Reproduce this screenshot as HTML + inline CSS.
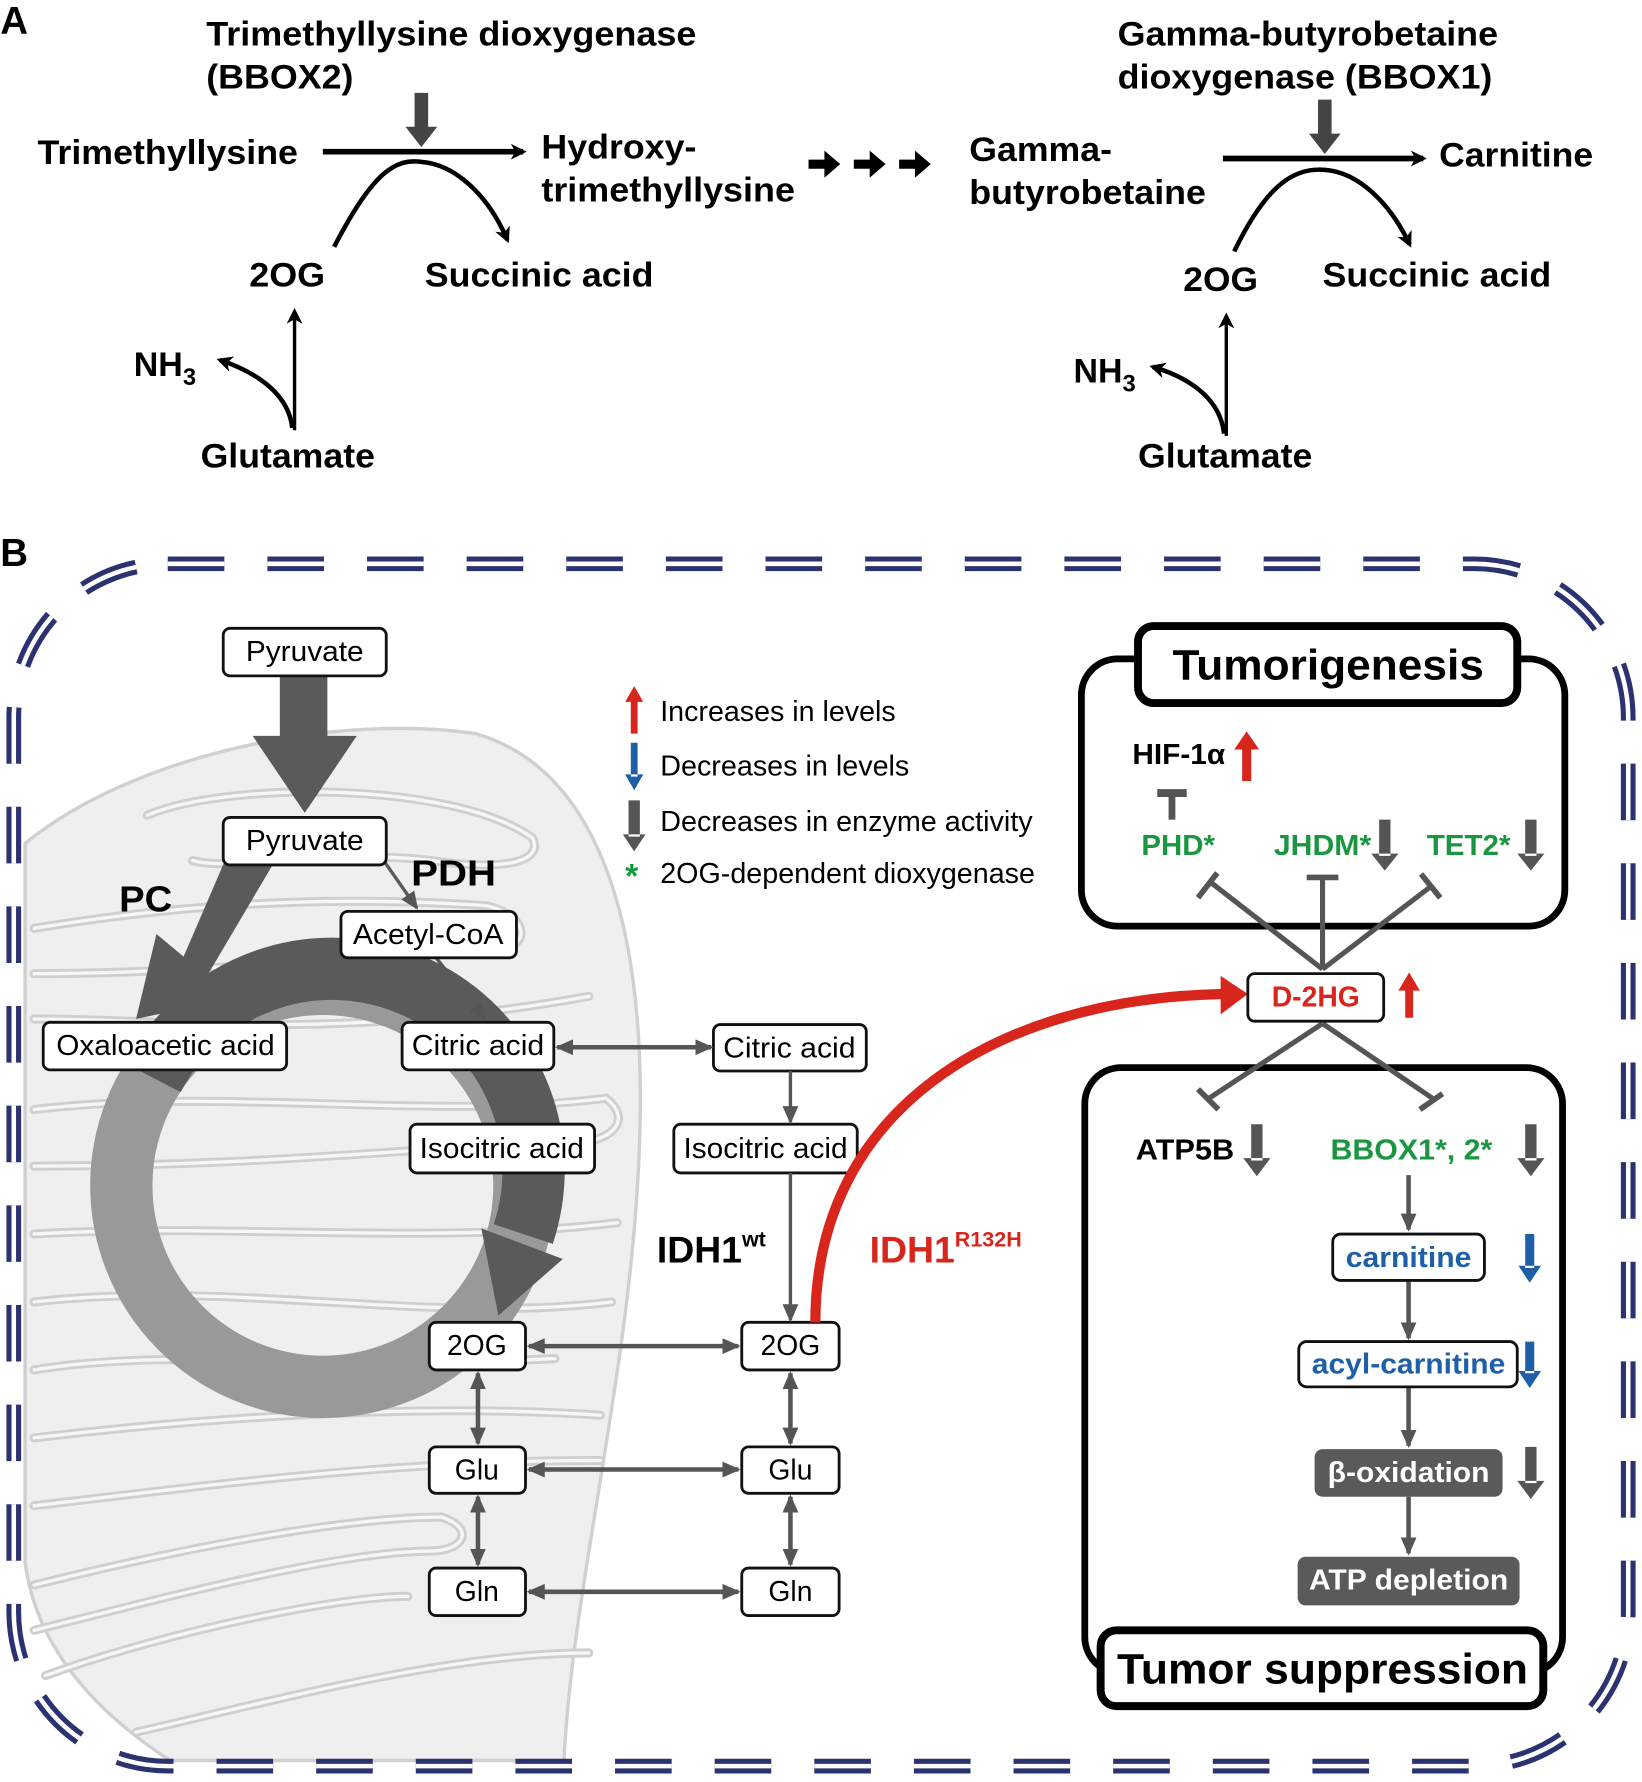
<!DOCTYPE html>
<html><head><meta charset="utf-8"><style>
html,body{margin:0;padding:0;background:#fff;width:1642px;height:1782px;overflow:hidden}
svg{display:block}
text{font-family:"Liberation Sans",Arial,sans-serif}
</style></head><body>
<svg width="1642" height="1782" viewBox="0 0 1450 1574" xmlns="http://www.w3.org/2000/svg">
<defs>
<marker id="ab" markerWidth="14" markerHeight="14" refX="11" refY="7" orient="auto" markerUnits="userSpaceOnUse" viewBox="0 0 14 14"><path d="M0,0 L14,7 L0,14 L4,7 Z" fill="#000"/></marker>
<marker id="ag" markerWidth="16" markerHeight="16" refX="14" refY="8" orient="auto-start-reverse" markerUnits="userSpaceOnUse" viewBox="0 0 16 16"><path d="M0,1 L16,8 L0,15 Z" fill="#555"/></marker>
</defs>

<!-- ===== Panel A ===== -->
<g font-weight="bold" font-size="30" fill="#000" lengthAdjust="spacingAndGlyphs">
<text x="0" y="30" font-size="34">A</text>
<text x="182" y="40" textLength="433" lengthAdjust="spacingAndGlyphs">Trimethyllysine dioxygenase</text>
<text x="182" y="78" textLength="130" lengthAdjust="spacingAndGlyphs">(BBOX2)</text>
<text x="33" y="145" textLength="230" lengthAdjust="spacingAndGlyphs">Trimethyllysine</text>
<text x="478" y="140" textLength="137" lengthAdjust="spacingAndGlyphs">Hydroxy-</text>
<text x="478" y="178" textLength="224" lengthAdjust="spacingAndGlyphs">trimethyllysine</text>
<text x="220" y="253" textLength="67" lengthAdjust="spacingAndGlyphs">2OG</text>
<text x="375" y="253" textLength="202" lengthAdjust="spacingAndGlyphs">Succinic acid</text>
<text x="118" y="332">NH<tspan font-size="21" dy="8">3</tspan></text>
<text x="177" y="413" textLength="154" lengthAdjust="spacingAndGlyphs">Glutamate</text>
<text x="987" y="40" textLength="336" lengthAdjust="spacingAndGlyphs">Gamma-butyrobetaine</text>
<text x="987" y="78" textLength="331" lengthAdjust="spacingAndGlyphs">dioxygenase (BBOX1)</text>
<text x="856" y="142" textLength="126" lengthAdjust="spacingAndGlyphs">Gamma-</text>
<text x="856" y="180" textLength="209" lengthAdjust="spacingAndGlyphs">butyrobetaine</text>
<text x="1271" y="147" textLength="136" lengthAdjust="spacingAndGlyphs">Carnitine</text>
<text x="1045" y="257" textLength="66" lengthAdjust="spacingAndGlyphs">2OG</text>
<text x="1168" y="253" textLength="202" lengthAdjust="spacingAndGlyphs">Succinic acid</text>
<text x="948" y="338">NH<tspan font-size="21" dy="8">3</tspan></text>
<text x="1005" y="413" textLength="154" lengthAdjust="spacingAndGlyphs">Glutamate</text>
</g>
<!-- A arrows left -->
<path d="M366,82 h12 v30 h8 l-14,18 l-14,-18 h8 z" fill="#444"/>
<line x1="285" y1="134" x2="462" y2="134" stroke="#000" stroke-width="5" marker-end="url(#ab)"/>
<path d="M295,218 C 330,150 350,140 372,143 C 400,145 430,170 448,212" fill="none" stroke="#000" stroke-width="4" marker-end="url(#ab)"/>
<line x1="260" y1="380" x2="260" y2="275" stroke="#000" stroke-width="3" marker-end="url(#ab)"/>
<path d="M258,378 C 255,350 230,330 194,318" fill="none" stroke="#000" stroke-width="4" marker-end="url(#ab)"/>
<g fill="#000">
<path d="M714,141 h14 v-8 l14,12 l-14,12 v-8 h-14 z"/>
<path d="M754,141 h14 v-8 l14,12 l-14,12 v-8 h-14 z"/>
<path d="M794,141 h14 v-8 l14,12 l-14,12 v-8 h-14 z"/>
</g>
<path d="M1164,88 h12 v30 h8 l-14,18 l-14,-18 h8 z" fill="#444"/>
<line x1="1080" y1="140" x2="1257" y2="140" stroke="#000" stroke-width="5" marker-end="url(#ab)"/>
<path d="M1090,222 C 1120,160 1145,148 1170,150 C 1200,152 1228,180 1245,216" fill="none" stroke="#000" stroke-width="4" marker-end="url(#ab)"/>
<line x1="1083" y1="385" x2="1083" y2="279" stroke="#000" stroke-width="3" marker-end="url(#ab)"/>
<path d="M1081,383 C 1078,355 1055,335 1018,324" fill="none" stroke="#000" stroke-width="4" marker-end="url(#ab)"/>

<!-- ===== Panel B ===== -->
<text x="0" y="500" font-size="34" font-weight="bold">B</text>

<!-- mitochondrion -->
<path d="M22,745 C 120,665 300,630 420,648 C 530,680 570,820 565,1000 C 560,1200 505,1400 498,1555 L 150,1555 Q 35,1480 22,1380 Z" fill="#efefef" stroke="#d0d0d0" stroke-width="3"/>
<g fill="none" stroke="#cfcfcf" stroke-width="8" stroke-linecap="round">
<path d="M130,720 C 200,690 400,690 470,740 C 480,760 450,770 380,760 C 300,750 200,770 170,760"/>
<path d="M30,820 C 150,800 280,790 430,800 C 470,810 470,840 430,840 C 330,840 200,860 30,860"/>
<path d="M30,900 C 150,900 300,920 520,880"/>
<path d="M30,980 C 200,960 380,990 535,970 C 560,990 540,1010 500,1010 C 400,1010 250,1030 30,1030"/>
<path d="M30,1090 C 200,1080 380,1100 545,1080"/>
<path d="M30,1150 C 200,1130 380,1170 540,1150"/>
<path d="M30,1210 C 150,1190 300,1210 490,1200"/>
<path d="M30,1270 C 200,1250 380,1240 530,1250"/>
<path d="M30,1330 C 200,1310 350,1290 530,1290"/>
<path d="M30,1400 C 150,1370 300,1340 390,1340 C 420,1350 410,1370 380,1370 C 300,1370 150,1410 30,1440"/>
<path d="M40,1480 C 150,1440 300,1410 360,1410"/>
<path d="M120,1530 C 250,1500 400,1460 520,1460"/>
</g>
<g fill="none" stroke="#f6f6f6" stroke-width="3" stroke-linecap="round">
<path d="M130,720 C 200,690 400,690 470,740 C 480,760 450,770 380,760 C 300,750 200,770 170,760"/>
<path d="M30,820 C 150,800 280,790 430,800 C 470,810 470,840 430,840 C 330,840 200,860 30,860"/>
<path d="M30,900 C 150,900 300,920 520,880"/>
<path d="M30,980 C 200,960 380,990 535,970 C 560,990 540,1010 500,1010 C 400,1010 250,1030 30,1030"/>
<path d="M30,1090 C 200,1080 380,1100 545,1080"/>
<path d="M30,1150 C 200,1130 380,1170 540,1150"/>
<path d="M30,1210 C 150,1190 300,1210 490,1200"/>
<path d="M30,1270 C 200,1250 380,1240 530,1250"/>
<path d="M30,1330 C 200,1310 350,1290 530,1290"/>
<path d="M30,1400 C 150,1370 300,1340 390,1340 C 420,1350 410,1370 380,1370 C 300,1370 150,1410 30,1440"/>
<path d="M40,1480 C 150,1440 300,1410 360,1410"/>
<path d="M120,1530 C 250,1500 400,1460 520,1460"/>
</g>

<!-- dashed double border -->
<rect x="12" y="498" width="1426" height="1062" rx="136" fill="none" stroke="#2b3270" stroke-width="13" stroke-dasharray="50 38"/>
<rect x="12" y="498" width="1426" height="1062" rx="136" fill="none" stroke="#fff" stroke-width="4" stroke-dasharray="50 38"/>

<!-- TCA cycle -->
<circle cx="285" cy="1047" r="178" fill="none" stroke="#999" stroke-width="55"/>
<path d="M135,952 A178,178 0 0 1 462,1090" fill="none" stroke="#5a5a5a" stroke-width="55"/>
<path d="M425,1085 L497,1112 L440,1162 Z" fill="#5a5a5a"/>

<!-- big arrows -->
<path d="M247,597 h42 v53 h26 l-46,68 l-46,-68 h24 z" fill="#5a5a5a"/>
<path d="M205,745 L240,765 L178,870 L205,882 L120,900 L138,825 L162,845 Z" fill="#5a5a5a"/>
<line x1="340" y1="762" x2="368" y2="802" stroke="#5a5a5a" stroke-width="3" marker-end="url(#ag)"/>
<line x1="385" y1="846" x2="428" y2="900" stroke="#5a5a5a" stroke-width="3" marker-end="url(#ag)"/>

<g font-size="25" fill="#000" text-anchor="middle">
<g stroke="#111" stroke-width="2.5" fill="#fff">
<rect x="197" y="555" width="144" height="42" rx="6"/>
<rect x="197" y="722" width="144" height="42" rx="6"/>
<rect x="301" y="805" width="155" height="41" rx="6"/>
<rect x="38" y="903" width="215" height="42" rx="6"/>
<rect x="355" y="903" width="134" height="42" rx="6"/>
<rect x="362" y="993" width="163" height="43" rx="6"/>
<rect x="379" y="1168" width="85" height="42" rx="6"/>
<rect x="379" y="1278" width="85" height="41" rx="6"/>
<rect x="379" y="1385" width="85" height="42" rx="6"/>
<rect x="630" y="905" width="135" height="41" rx="6"/>
<rect x="595" y="993" width="162" height="43" rx="6"/>
<rect x="655" y="1168" width="86" height="42" rx="6"/>
<rect x="655" y="1278" width="86" height="41" rx="6"/>
<rect x="655" y="1385" width="86" height="42" rx="6"/>
</g>
<text x="269" y="584" textLength="104" lengthAdjust="spacingAndGlyphs">Pyruvate</text>
<text x="269" y="751" textLength="104" lengthAdjust="spacingAndGlyphs">Pyruvate</text>
<text x="378" y="834" textLength="133" lengthAdjust="spacingAndGlyphs">Acetyl-CoA</text>
<text x="146" y="932" textLength="193" lengthAdjust="spacingAndGlyphs">Oxaloacetic acid</text>
<text x="422" y="932" textLength="117" lengthAdjust="spacingAndGlyphs">Citric acid</text>
<text x="443" y="1023" textLength="145" lengthAdjust="spacingAndGlyphs">Isocitric acid</text>
<text x="421" y="1197">2OG</text>
<text x="421" y="1307">Glu</text>
<text x="421" y="1414">Gln</text>
<text x="697" y="934" textLength="117" lengthAdjust="spacingAndGlyphs">Citric acid</text>
<text x="676" y="1023" textLength="145" lengthAdjust="spacingAndGlyphs">Isocitric acid</text>
<text x="698" y="1197">2OG</text>
<text x="698" y="1307">Glu</text>
<text x="698" y="1414">Gln</text>
</g>
<text x="105" y="805" font-size="32" font-weight="bold" textLength="47" lengthAdjust="spacingAndGlyphs">PC</text>
<text x="363" y="782" font-size="32" font-weight="bold" textLength="75" lengthAdjust="spacingAndGlyphs">PDH</text>

<!-- connectors -->
<g stroke="#555" stroke-width="4" marker-start="url(#ag)" marker-end="url(#ag)">
<line x1="492" y1="925" x2="628" y2="925"/>
<line x1="467" y1="1189" x2="652" y2="1189"/>
<line x1="467" y1="1298" x2="652" y2="1298"/>
<line x1="467" y1="1406" x2="652" y2="1406"/>
<line x1="422" y1="1213" x2="422" y2="1275"/>
<line x1="422" y1="1322" x2="422" y2="1382"/>
<line x1="698" y1="1213" x2="698" y2="1275"/>
<line x1="698" y1="1322" x2="698" y2="1382"/>
</g>
<line x1="698" y1="946" x2="698" y2="991" stroke="#555" stroke-width="3" marker-end="url(#ag)"/>
<line x1="698" y1="1036" x2="698" y2="1166" stroke="#555" stroke-width="3" marker-end="url(#ag)"/>

<text x="580" y="1115" font-size="33" font-weight="bold">IDH1<tspan font-size="19" dy="-14">wt</tspan></text>
<text x="768" y="1115" font-size="33" font-weight="bold" fill="#d9261c">IDH1<tspan font-size="19" dy="-14">R132H</tspan></text>
<path d="M720,1168 C 720,980 880,882 1080,878" fill="none" stroke="#d9261c" stroke-width="9"/>
<path d="M1078,862 L1102,878 L1078,896 Z" fill="#d9261c"/>

<!-- legend -->
<path d="M557,618 h6 v30 h-6 z M552,620 l8,-14 l8,14 z" fill="#d9261c"/>
<path d="M557,656 h6 v30 h-6 z M552,684 l8,14 l8,-14 z" fill="#1f5fa8"/>
<path d="M555,707 h10 v32 h-10 z M550,737 l10,15 l10,-15 z" fill="#555"/>
<g font-size="25">
<text x="583" y="637" textLength="208" lengthAdjust="spacingAndGlyphs">Increases in levels</text>
<text x="583" y="685" textLength="220" lengthAdjust="spacingAndGlyphs">Decreases in levels</text>
<text x="583" y="734" textLength="329" lengthAdjust="spacingAndGlyphs">Decreases in enzyme activity</text>
<text x="583" y="780" textLength="331" lengthAdjust="spacingAndGlyphs">2OG-dependent dioxygenase</text>
<text x="552" y="784" fill="#1a9641" font-size="30" font-weight="bold">*</text>
</g>

<!-- Tumorigenesis -->
<rect x="955" y="582" width="427" height="236" rx="32" fill="#fff" stroke="#000" stroke-width="6"/>
<rect x="1005" y="553" width="335" height="68" rx="14" fill="#fff" stroke="#000" stroke-width="7"/>
<text x="1173" y="600" font-size="38" font-weight="bold" text-anchor="middle" textLength="275" lengthAdjust="spacingAndGlyphs">Tumorigenesis</text>
<text x="1000" y="675" font-size="25" font-weight="bold" textLength="82" lengthAdjust="spacingAndGlyphs">HIF-1α</text>
<path d="M1097,660 h8 v30 h-8 z M1090,662 l11,-16 l11,16 z" fill="#d9261c"/>
<path d="M1032,702 h6 v22 h-6 z M1022,697 h26 v7 h-26 z" fill="#555"/>
<g font-size="25" font-weight="bold" fill="#1a9641">
<text x="1008" y="755" textLength="65" lengthAdjust="spacingAndGlyphs">PHD*</text>
<text x="1125" y="755" textLength="86" lengthAdjust="spacingAndGlyphs">JHDM*</text>
<text x="1260" y="755" textLength="74" lengthAdjust="spacingAndGlyphs">TET2*</text>
</g>
<path d="M1218,724 h10 v32 h-10 z M1211,754 l12,15 l12,-15 z" fill="#555"/>
<path d="M1347,724 h10 v32 h-10 z M1340,754 l12,15 l12,-15 z" fill="#555"/>
<g stroke="#555" stroke-width="4.5" fill="none">
<line x1="1168" y1="856" x2="1070" y2="780"/>
<line x1="1168" y1="856" x2="1168" y2="775"/>
<line x1="1168" y1="856" x2="1265" y2="782"/>
<line x1="1058" y1="793" x2="1075" y2="771" stroke-width="5"/>
<line x1="1154" y1="775" x2="1182" y2="775" stroke-width="5"/>
<line x1="1255" y1="772" x2="1272" y2="793" stroke-width="5"/>
</g>

<!-- Tumor suppression -->
<rect x="958" y="943" width="422" height="535" rx="32" fill="#fff" stroke="#000" stroke-width="6"/>
<rect x="972" y="1440" width="391" height="67" rx="14" fill="#fff" stroke="#000" stroke-width="7"/>
<text x="1168" y="1487" font-size="38" font-weight="bold" text-anchor="middle" textLength="363" lengthAdjust="spacingAndGlyphs">Tumor suppression</text>
<g stroke="#555" stroke-width="4.5" fill="none">
<line x1="1168" y1="904" x2="1068" y2="970"/>
<line x1="1168" y1="904" x2="1265" y2="970"/>
<line x1="1058" y1="962" x2="1076" y2="980" stroke-width="5"/>
<line x1="1254" y1="980" x2="1274" y2="966" stroke-width="5"/>
</g>
<rect x="1102" y="860" width="120" height="42" rx="6" fill="#fff" stroke="#111" stroke-width="2.5"/>
<text x="1162" y="889" font-size="25" font-weight="bold" fill="#d9261c" text-anchor="middle">D-2HG</text>
<path d="M1241,873 h7 v26 h-7 z M1235,875 l9.5,-16 l9.5,16 z" fill="#d9261c"/>

<text x="1003" y="1024" font-size="25" font-weight="bold" textLength="87" lengthAdjust="spacingAndGlyphs">ATP5B</text>
<text x="1175" y="1024" font-size="25" font-weight="bold" fill="#1a9641" textLength="143" lengthAdjust="spacingAndGlyphs">BBOX1*, 2*</text>
<path d="M1105,993 h10 v32 h-10 z M1098,1023 l12,16 l12,-16 z" fill="#555"/>
<path d="M1347,993 h10 v32 h-10 z M1340,1023 l12,16 l12,-16 z" fill="#555"/>
<path d="M1347,1090 h8 v30 h-8 z M1341,1118 l10,15 l10,-15 z" fill="#1f5fa8"/>
<path d="M1347,1185 h8 v28 h-8 z M1341,1211 l10,15 l10,-15 z" fill="#1f5fa8"/>
<path d="M1347,1278 h10 v32 h-10 z M1340,1308 l12,16 l12,-16 z" fill="#555"/>

<g stroke="#555" stroke-width="4">
<line x1="1244" y1="1038" x2="1244" y2="1086" marker-end="url(#ag)"/>
<line x1="1244" y1="1132" x2="1244" y2="1182" marker-end="url(#ag)"/>
<line x1="1244" y1="1226" x2="1244" y2="1277" marker-end="url(#ag)"/>
<line x1="1244" y1="1322" x2="1244" y2="1372" marker-end="url(#ag)"/>
</g>
<rect x="1177" y="1090" width="134" height="41" rx="7" fill="#fff" stroke="#111" stroke-width="2.5"/>
<rect x="1147" y="1185" width="193" height="40" rx="7" fill="#fff" stroke="#111" stroke-width="2.5"/>
<rect x="1161" y="1280" width="166" height="42" rx="7" fill="#5a5a5a"/>
<rect x="1146" y="1375" width="196" height="43" rx="7" fill="#5a5a5a"/>
<g font-size="25" font-weight="bold" text-anchor="middle">
<text x="1244" y="1119" fill="#1f5fa8" textLength="111" lengthAdjust="spacingAndGlyphs">carnitine</text>
<text x="1244" y="1213" fill="#1f5fa8" textLength="171" lengthAdjust="spacingAndGlyphs">acyl-carnitine</text>
<text x="1244" y="1309" fill="#fff" textLength="143" lengthAdjust="spacingAndGlyphs">β-oxidation</text>
<text x="1244" y="1404" fill="#fff" textLength="176" lengthAdjust="spacingAndGlyphs">ATP depletion</text>
</g>
</svg>
</body></html>
